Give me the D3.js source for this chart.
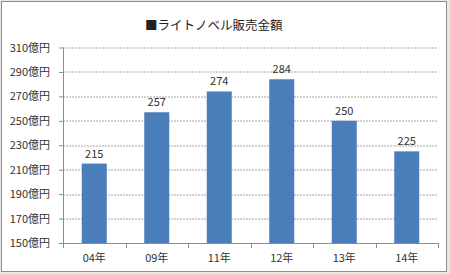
<!DOCTYPE html>
<html>
<head>
<meta charset="utf-8">
<script src="https://cdn.jsdelivr.net/npm/d3@7"></script>
<style>
  body { margin: 0; background: #fff; }
  svg text { font-family: "Noto Sans CJK JP", "DejaVu Sans", sans-serif; fill: #333; }
</style>
</head>
<body>
<svg width="450" height="274"></svg>
<script>
// data
var years = ["04年", "09年", "11年", "12年", "13年", "14年"];
var sales = [215, 257, 274, 284, 250, 225];
var yTicks = [150, 170, 190, 210, 230, 250, 270, 290, 310];

var svg = d3.select("svg");

// outer frame
svg.append("rect").attr("width", 450).attr("height", 274).attr("fill", "#e8e8e8");
svg.append("rect")
    .attr("x", 1.5).attr("y", 1.5).attr("width", 445).attr("height", 270)
    .attr("fill", "#fff").attr("stroke", "#8c8c8c");

var margin = {top: 47.5, left: 63, right: 12, bottom: 31},
    width = 450 - margin.left - margin.right,
    height = 274 - margin.top - margin.bottom,
    g = svg.append("g").attr("transform", "translate(" + margin.left + "," + margin.top + ")");

var x = d3.scaleBand().domain(years).range([0, width]).paddingInner(0.6).paddingOuter(0.3);
var y = d3.scaleLinear().domain([150, 310]).range([height, 0]);

// grid
g.selectAll(".grid").data(yTicks.slice(1)).enter().append("line")
    .attr("x1", 0).attr("x2", width)
    .attr("y1", function(d) { return Math.round(y(d)) + 0.5; })
    .attr("y2", function(d) { return Math.round(y(d)) + 0.5; })
    .attr("stroke", "#a6a6a6").attr("stroke-dasharray", "2,1");

// bars
g.selectAll(".bar").data(sales).enter().append("rect")
    .attr("x", function(d, i) { return x(years[i]); })
    .attr("width", x.bandwidth())
    .attr("y", function(d) { return y(d); })
    .attr("height", function(d) { return height - y(d); })
    .attr("fill", "#4a7ebb");

// value labels
g.selectAll(".val").data(sales).enter().append("text")
    .attr("x", function(d, i) { return x(years[i]) + x.bandwidth() / 2; })
    .attr("y", function(d) { return y(d) - 6; })
    .attr("text-anchor", "middle")
    .style("font-size", "11px")
    .text(function(d) { return d; });

// y axis
var yAxis = g.append("g")
    .call(d3.axisLeft(y).tickValues(yTicks).tickSize(4).tickPadding(9)
      .tickFormat(function(d) { return d + "億円"; }));
yAxis.selectAll("text").style("font-size", "11px").attr("fill", "#333");
yAxis.selectAll("line, path").attr("stroke", "#8c8c8c");
yAxis.select(".domain").attr("d", "M0.5," + height + "V0");

// x axis, ticks between categories
var step = x.step();
var xAxis = g.append("g").attr("transform", "translate(0," + height + ")");
xAxis.append("line").attr("x1", 0).attr("x2", width).attr("y1", 0.5).attr("y2", 0.5).attr("stroke", "#8c8c8c");
xAxis.selectAll(".tk").data(d3.range(years.length + 1)).enter().append("line")
    .attr("x1", function(i) { return Math.round(i * width / years.length) + 0.5; })
    .attr("x2", function(i) { return Math.round(i * width / years.length) + 0.5; })
    .attr("y1", 0).attr("y2", 5).attr("stroke", "#8c8c8c");
xAxis.selectAll(".lbl").data(years).enter().append("text")
    .attr("x", function(d) { return x(d) + x.bandwidth() / 2; })
    .attr("y", 19)
    .attr("text-anchor", "middle")
    .style("font-size", "11px")
    .text(function(d) { return d; });

// title
svg.append("text")
    .attr("x", 145).attr("y", 30)
    .style("font-size", "12.5px")
    .style("fill", "#222")
    .text("■ライトノベル販売金額");
</script>
</body>
</html>
